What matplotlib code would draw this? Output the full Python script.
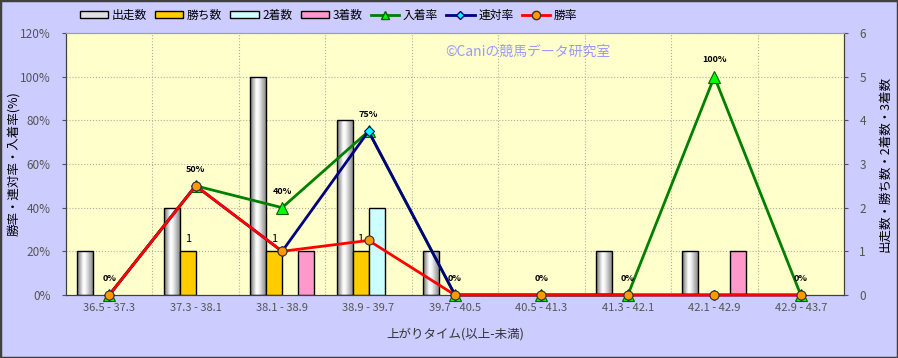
import numpy as np
import matplotlib
matplotlib.use("Agg")
import matplotlib.pyplot as plt
from matplotlib.colors import LinearSegmentedColormap
from matplotlib.patches import Patch, Rectangle
from matplotlib.lines import Line2D

plt.rcParams['font.family'] = ['Noto Sans CJK JP', 'DejaVu Sans']

# --- data ---
categories = ["36.5 - 37.3", "37.3 - 38.1", "38.1 - 38.9", "38.9 - 39.7", "39.7 - 40.5",
              "40.5 - 41.3", "41.3 - 42.1", "42.1 - 42.9", "42.9 - 43.7"]
runs = [1, 2, 5, 4, 1, 0, 1, 1, 0]       # 出走数
wins = [0, 1, 1, 1, 0, 0, 0, 0, 0]       # 勝ち数
seconds = [0, 0, 0, 2, 0, 0, 0, 0, 0]    # 2着数
thirds = [0, 0, 1, 0, 0, 0, 0, 1, 0]     # 3着数
place_rate = [0, 50, 40, 75, 0, 0, 0, 100, 0]   # 入着率
quinella_rate = [0, 50, 20, 75, 0, 0, 0, 0, 0]  # 連対率
win_rate = [0, 50, 20, 25, 0, 0, 0, 0, 0]       # 勝率

bg_fig = '#ccccff'
bg_ax = '#ffffcc'
c_win = '#ffcc00'
c_2nd = '#ccffff'
c_3rd = '#ff99cc'
tick_col = '#555555'

fig = plt.figure(figsize=(8.98, 3.58), dpi=100)
fig.patch.set_facecolor(bg_fig)
ax = fig.add_axes([66 / 898, 1 - 295 / 358, (844 - 66) / 898, (295 - 33) / 358])
ax.set_facecolor(bg_ax)
ax2 = ax.twinx()
ax2.patch.set_visible(False)

x = np.arange(len(categories))
w = 0.185
offs = np.array([-1.5, -0.5, 0.5, 1.5]) * w

# --- bars (count axis, right side) ---
grad_cmap = LinearSegmentedColormap.from_list(
    'cyl', [(0, '#707070'), (0.4, '#ffffff'), (0.55, '#f4f4f4'), (1, '#8c8c8c')])
grad = np.linspace(0, 1, 64).reshape(1, -1)
for xi, v in zip(x, runs):
    if v == 0:
        continue
    x0 = xi + offs[0] - w / 2
    r = Rectangle((x0, 0), w, v, facecolor='none', edgecolor='black', lw=1, zorder=3)
    ax.add_patch(r)
    im = ax.imshow(grad, extent=[x0, x0 + w, 0, v], aspect='auto', cmap=grad_cmap,
                   zorder=2.5, interpolation='bilinear')
    im.set_clip_path(r)

for vals, off, col in [(wins, offs[1], c_win), (seconds, offs[2], c_2nd), (thirds, offs[3], c_3rd)]:
    v = np.array(vals, dtype=float)
    m = v > 0
    ax.bar(x[m] + off, v[m], width=w, color=col, edgecolor='black', lw=1, zorder=3)

for xi, v in zip(x, wins):
    if v > 0:
        ax.annotate(str(v), (xi + offs[1], v), xytext=(0, 9), textcoords='offset points',
                    ha='center', va='center', fontsize=8, color='black', zorder=4)

ax.set_xlim(-0.5, len(categories) - 0.5)
ax.set_ylim(0, 6)
ax.set_yticks(range(7))
ax.yaxis.tick_right()
ax.yaxis.set_label_position('right')
ax.set_xticks(x)
ax.set_xticklabels(categories)
ax.set_xticks(np.arange(len(categories) + 1) - 0.5, minor=True)
ax.tick_params(axis='x', which='both', length=0, colors=tick_col, labelsize=8, pad=6)
ax.tick_params(axis='y', colors=tick_col, labelsize=8.5, length=3, pad=8)
ax.grid(True, axis='y', color='#b0b0a0', ls=':', lw=0.8)
ax.grid(True, axis='x', which='minor', color='#b0b0a0', ls=':', lw=0.8)
ax.set_axisbelow(True)
ax.set_ylabel("出走数・勝ち数・2着数・3着数", fontsize=9, color='black', rotation=90)
ax.yaxis.set_label_coords((878 - 66) / 778, 0.5)
ax.set_xlabel("上がりタイム(以上-未満)", fontsize=9, color='#333333', labelpad=10)

# --- rate lines (percent axis, left side) ---
ax2.plot(x, place_rate, color='#008000', lw=2, marker='^', ms=8, mfc='#00ff00', mec='#006000',
         mew=0.8, zorder=3, clip_on=False)
ax2.plot(x, quinella_rate, color='#000080', lw=2, marker='D', ms=5, mfc='#00ffff', mec='#000080',
         mew=0.8, zorder=4, clip_on=False)
ax2.plot(x, win_rate, color='#ff0000', lw=2, marker='o', ms=6.5, mfc='#ff9900', mec='#333333',
         mew=0.8, zorder=5, clip_on=False)
for xi, v in zip(x, place_rate):
    ax2.annotate(f"{v}%", (xi, v), xytext=(0, 12), textcoords='offset points',
                 ha='center', va='center', fontsize=6.5, fontweight='bold', color='black', zorder=6)

ax2.set_ylim(0, 120)
ax2.set_yticks(range(0, 121, 20))
ax2.set_yticklabels([f"{v}%" for v in range(0, 121, 20)])
ax2.yaxis.tick_left()
ax2.yaxis.set_label_position('left')
ax2.tick_params(axis='y', colors=tick_col, labelsize=8.5, length=3, pad=8)
ax2.set_ylabel("勝率・連対率・入着率(%)", fontsize=9, color='black')
ax2.yaxis.set_label_coords((20 - 66) / 778, 0.5)

for a in (ax, ax2):
    for s in ('left', 'right', 'bottom'):
        a.spines[s].set_color('#404040')
    a.spines['top'].set_color('#a0a0a0')

# watermark
ax2.text(0.487, 0.93, "©Caniの競馬データ研究室", transform=ax2.transAxes, fontsize=10,
         color='#9999ff', ha='left', va='center', zorder=1)

# --- legend ---
handles = [
    Patch(facecolor='#e0e0e0', edgecolor='black', lw=1),
    Patch(facecolor=c_win, edgecolor='black', lw=1),
    Patch(facecolor=c_2nd, edgecolor='black', lw=1),
    Patch(facecolor=c_3rd, edgecolor='black', lw=1),
    Line2D([], [], color='#008000', lw=2, marker='^', ms=6, mfc='#00ff00', mec='#006000'),
    Line2D([], [], color='#000080', lw=2, marker='D', ms=4, mfc='#00ffff', mec='#000080'),
    Line2D([], [], color='#ff0000', lw=2, marker='o', ms=6, mfc='#ff9900', mec='#333333'),
]
labels = ["出走数", "勝ち数", "2着数", "3着数", "入着率", "連対率", "勝率"]
fig.legend(handles, labels, loc='upper left', bbox_to_anchor=(75 / 898, 1 - 4 / 358), ncol=7,
           frameon=False, fontsize=8.5, handlelength=2.4, handleheight=0.45, handletextpad=0.3,
           columnspacing=0.7, borderaxespad=0)

fig.add_artist(Rectangle((0, 0), 1, 1, transform=fig.transFigure, fill=False,
                         edgecolor='#404040', lw=2.5))

fig.savefig("out.png", dpi=100, facecolor=fig.get_facecolor())
